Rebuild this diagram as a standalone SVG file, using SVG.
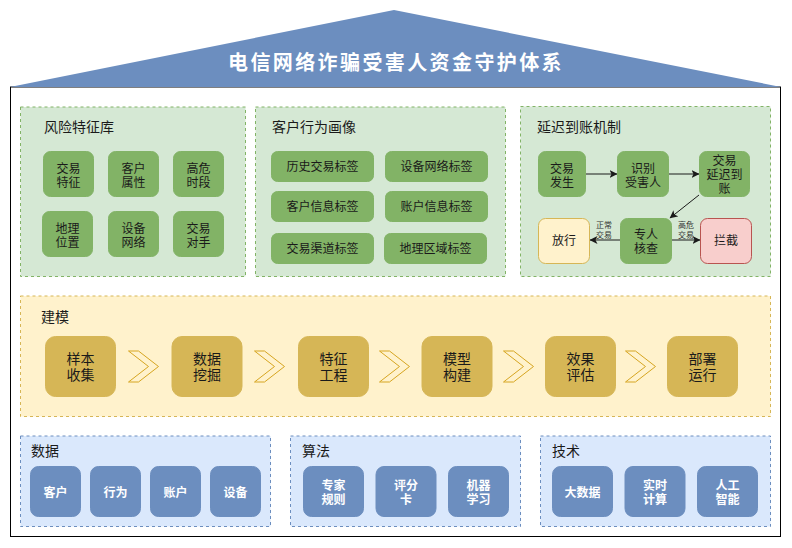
<svg xmlns="http://www.w3.org/2000/svg" width="792" height="548" viewBox="0 0 792 548">
<style>
text{font-family:"Liberation Sans","Noto Sans CJK SC",sans-serif;fill:#1a1a1a}
.c{text-anchor:middle;font-size:12px}
.big{text-anchor:middle;font-size:14px}
.head{font-size:14px}
.w{fill:#fff;font-weight:bold}
.gp{fill:#d5e8d4;stroke:#82b366;stroke-dasharray:3 3}
.yp{fill:#fff2cc;stroke:#d6b656;stroke-dasharray:3 3}
.bp{fill:#dae8fc;stroke:#6c8ebf;stroke-dasharray:3 3}
.g{fill:#82b366;stroke:#82b366}
.y{fill:#d6b656;stroke:#d6b656}
.b{fill:#6c8ebf;stroke:#6c8ebf}
.chev{fill:#fff2cc;stroke:#d6a520}
.ln{fill:none;stroke:#1a1a1a;stroke-width:1;marker-end:url(#ah)}
.tiny{text-anchor:middle;font-size:8px;fill:#333}
</style>
<defs>
<marker id="ah" markerUnits="userSpaceOnUse" markerWidth="9" markerHeight="9" refX="7.5" refY="4" orient="auto"><path d="M0 0L8 4L0 8L2 4Z" fill="#1a1a1a"/></marker>
<polygon id="chv" class="chev" points="0,0 10,0 30,15.5 10,31 0,31 20,15.5"/>
</defs>
<rect id="body" x="10.5" y="87" width="770" height="449.5" fill="#fff" stroke="#000"/>
<g id="roof"><polygon points="10,87 394,10 781,87" fill="#6c8ebf"/><text x="396" y="69.500" text-anchor="middle" style="font-size:20px;font-weight:bold;letter-spacing:2.400px;fill:#fff">电信网络诈骗受害人资金守护体系</text></g>

<g id="panel-risk"><rect class="gp" x="20.500" y="107" width="225" height="169.500"/><text class="head" x="44" y="132">风险特征库</text></g>
<g id="panel-profile"><rect class="gp" x="255.500" y="107" width="250" height="169.500"/><text class="head" x="272" y="132">客户行为画像</text></g>
<g id="panel-delay"><rect class="gp" x="520.500" y="106.500" width="250" height="170"/><text class="head" x="537" y="132">延迟到账机制</text></g>
<g id="panel-model"><rect class="yp" x="20.500" y="296" width="750" height="120.500"/><text class="head" x="41" y="322">建模</text></g>
<g id="panel-data"><rect class="bp" x="20.500" y="436" width="250" height="90.500"/><text class="head" x="31" y="456">数据</text></g>
<g id="panel-algo"><rect class="bp" x="290.500" y="436" width="230" height="90.500"/><text class="head" x="302" y="456">算法</text></g>
<g id="panel-tech"><rect class="bp" x="540.500" y="436" width="230" height="90.500"/><text class="head" x="552" y="456">技术</text></g>

<g id="n-jy"><rect class="g" x="43.500" y="151.500" width="50" height="45" rx="7"/><text class="c" y="172.500"><tspan x="68.500">交易</tspan><tspan x="68.500" dy="14">特征</tspan></text></g>
<g id="n-kh"><rect class="g" x="108.500" y="151.500" width="50" height="45" rx="7"/><text class="c" y="172.500"><tspan x="133.500">客户</tspan><tspan x="133.500" dy="14">属性</tspan></text></g>
<g id="n-gw"><rect class="g" x="173.500" y="151.500" width="50" height="45" rx="7"/><text class="c" y="172.500"><tspan x="198.500">高危</tspan><tspan x="198.500" dy="14">时段</tspan></text></g>
<g id="n-dl"><rect class="g" x="42.500" y="211.500" width="50" height="45" rx="7"/><text class="c" y="232.500"><tspan x="67.500">地理</tspan><tspan x="67.500" dy="14">位置</tspan></text></g>
<g id="n-sb"><rect class="g" x="108.500" y="211.500" width="50" height="45" rx="7"/><text class="c" y="232.500"><tspan x="133.500">设备</tspan><tspan x="133.500" dy="14">网络</tspan></text></g>
<g id="n-ds"><rect class="g" x="173.500" y="211.500" width="50" height="45" rx="7"/><text class="c" y="232.500"><tspan x="198.500">交易</tspan><tspan x="198.500" dy="14">对手</tspan></text></g>

<g id="t-1"><rect class="g" x="271.500" y="151.500" width="102" height="30" rx="6"/><text class="c" x="322.500" y="171">历史交易标签</text></g>
<g id="t-2"><rect class="g" x="385.500" y="151.500" width="102" height="30" rx="6"/><text class="c" x="436.500" y="171">设备网络标签</text></g>
<g id="t-3"><rect class="g" x="271.500" y="191.500" width="102" height="30" rx="6"/><text class="c" x="322.500" y="211">客户信息标签</text></g>
<g id="t-4"><rect class="g" x="385.500" y="191.500" width="102" height="30" rx="6"/><text class="c" x="436.500" y="211">账户信息标签</text></g>
<g id="t-5"><rect class="g" x="271.500" y="233.500" width="102" height="30" rx="6"/><text class="c" x="322.500" y="253">交易渠道标签</text></g>
<g id="t-6"><rect class="g" x="384.500" y="233.500" width="102" height="30" rx="6"/><text class="c" x="435.500" y="253">地理区域标签</text></g>

<g id="connectors">
<line class="ln" x1="586" y1="174" x2="617" y2="174"/>
<line class="ln" x1="669" y1="174" x2="699" y2="174"/>
<line class="ln" x1="699" y1="195" x2="670" y2="218"/>
<line class="ln" x1="620" y1="240" x2="590" y2="240"/>
<line class="ln" x1="672" y1="240" x2="700" y2="240"/>
<text class="tiny" y="228"><tspan x="604">正常</tspan><tspan x="604" dy="9.500">交易</tspan></text>
<text class="tiny" y="228"><tspan x="686">高危</tspan><tspan x="686" dy="9.500">交易</tspan></text>
<use href="#chv" x="128.500" y="351"/>
<use href="#chv" x="254.500" y="351"/>
<use href="#chv" x="379.500" y="351"/>
<use href="#chv" x="503.500" y="351"/>
<use href="#chv" x="625.500" y="351"/>
</g>

<g id="d-1"><rect class="g" x="538.500" y="151.500" width="47" height="45" rx="7"/><text class="c" y="172.500"><tspan x="562">交易</tspan><tspan x="562" dy="14">发生</tspan></text></g>
<g id="d-2"><rect class="g" x="617.500" y="151.500" width="51" height="45" rx="7"/><text class="c" y="172.500"><tspan x="643">识别</tspan><tspan x="643" dy="14">受害人</tspan></text></g>
<g id="d-3"><rect class="g" x="699.500" y="151.500" width="50" height="45" rx="7"/><text class="c" y="165"><tspan x="724.500">交易</tspan><tspan x="724.500" dy="14">延迟到</tspan><tspan x="724.500" dy="14">账</tspan></text></g>
<g id="d-4"><rect x="538.500" y="218.500" width="51" height="45" rx="7" fill="#fff2cc" stroke="#d6b656"/><text class="c" x="564" y="245">放行</text></g>
<g id="d-5"><rect class="g" x="620.500" y="218.500" width="51" height="45" rx="7"/><text class="c" y="238.500"><tspan x="646">专人</tspan><tspan x="646" dy="14">核查</tspan></text></g>
<g id="d-6"><rect x="700.500" y="218.500" width="51" height="45" rx="7" fill="#f8cecc" stroke="#b85450"/><text class="c" x="726" y="245">拦截</text></g>

<g id="m-1"><rect class="y" x="45.500" y="336.500" width="70" height="60" rx="10"/><text class="big" y="364"><tspan x="80.500">样本</tspan><tspan x="80.500" dy="16.200">收集</tspan></text></g>
<g id="m-2"><rect class="y" x="172" y="336.500" width="70" height="60" rx="10"/><text class="big" y="364"><tspan x="207">数据</tspan><tspan x="207" dy="16.200">挖掘</tspan></text></g>
<g id="m-3"><rect class="y" x="298.500" y="336.500" width="70" height="60" rx="10"/><text class="big" y="364"><tspan x="333.500">特征</tspan><tspan x="333.500" dy="16.200">工程</tspan></text></g>
<g id="m-4"><rect class="y" x="422" y="336.500" width="70" height="60" rx="10"/><text class="big" y="364"><tspan x="457">模型</tspan><tspan x="457" dy="16.200">构建</tspan></text></g>
<g id="m-5"><rect class="y" x="545.500" y="336.500" width="70" height="60" rx="10"/><text class="big" y="364"><tspan x="580.500">效果</tspan><tspan x="580.500" dy="16.200">评估</tspan></text></g>
<g id="m-6"><rect class="y" x="667.500" y="336.500" width="70" height="60" rx="10"/><text class="big" y="364"><tspan x="702.500">部署</tspan><tspan x="702.500" dy="16.200">运行</tspan></text></g>

<g id="b-1"><rect class="b" x="30.500" y="466.500" width="50" height="50" rx="8"/><text class="c w" x="55.500" y="496.500">客户</text></g>
<g id="b-2"><rect class="b" x="90.500" y="466.500" width="50" height="50" rx="8"/><text class="c w" x="115.500" y="496.500">行为</text></g>
<g id="b-3"><rect class="b" x="150.500" y="466.500" width="50" height="50" rx="8"/><text class="c w" x="175.500" y="496.500">账户</text></g>
<g id="b-4"><rect class="b" x="210.500" y="466.500" width="50" height="50" rx="8"/><text class="c w" x="235.500" y="496.500">设备</text></g>
<g id="b-5"><rect class="b" x="303.500" y="466.500" width="60" height="50" rx="8"/><text class="c w" y="489.500"><tspan x="333.500">专家</tspan><tspan x="333.500" dy="14">规则</tspan></text></g>
<g id="b-6"><rect class="b" x="376" y="466.500" width="60" height="50" rx="8"/><text class="c w" y="489.500"><tspan x="406">评分</tspan><tspan x="406" dy="14">卡</tspan></text></g>
<g id="b-7"><rect class="b" x="448.500" y="466.500" width="60" height="50" rx="8"/><text class="c w" y="489.500"><tspan x="478.500">机器</tspan><tspan x="478.500" dy="14">学习</tspan></text></g>
<g id="b-8"><rect class="b" x="552.500" y="466.500" width="60" height="50" rx="8"/><text class="c w" x="582.500" y="496.500">大数据</text></g>
<g id="b-9"><rect class="b" x="625" y="466.500" width="60" height="50" rx="8"/><text class="c w" y="489.500"><tspan x="655">实时</tspan><tspan x="655" dy="14">计算</tspan></text></g>
<g id="b-10"><rect class="b" x="697.500" y="466.500" width="60" height="50" rx="8"/><text class="c w" y="489.500"><tspan x="727.500">人工</tspan><tspan x="727.500" dy="14">智能</tspan></text></g>
</svg>
